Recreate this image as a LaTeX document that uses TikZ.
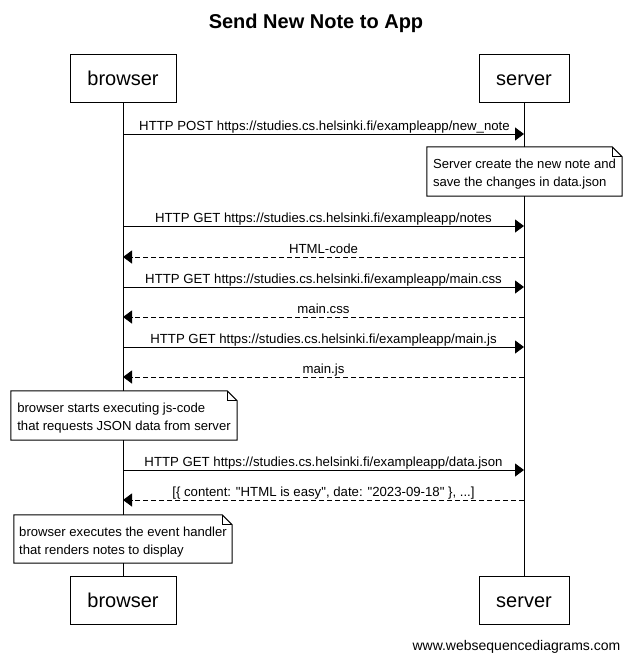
\documentclass[tikz,border=0pt]{standalone}
\usepackage{fontspec}
\setmainfont{Liberation Sans}[Ligatures=TeXOff]
\usetikzlibrary{arrows.meta}
\begin{document}
\begin{tikzpicture}[x=1pt,y=-1pt,
  actor/.style={draw,line width=1pt,minimum height=48pt,inner sep=0pt,
    text height=14pt,text depth=0pt,font=\fontsize{20}{24}\selectfont},
  lifeline/.style={line width=1pt},
  req/.style={line width=1pt,-{Triangle[length=9pt,width=13pt]}},
  resp/.style={line width=1pt,dash pattern=on 5pt off 3pt,-{Triangle[length=9pt,width=13pt]}},
  lbl/.style={anchor=base,inner sep=0pt,font=\fontsize{13.2}{16}\selectfont},
  notebg/.style={fill=white,inner sep=0pt},
  notetxt/.style={anchor=base,inner sep=0pt,font=\fontsize{13.1}{18}\selectfont},
  noteline/.style={line width=1pt,line join=miter}]
\useasboundingbox (0,0) rectangle (631,659);

% title
\node[anchor=base,inner sep=0pt,font=\fontsize{20}{24}\bfseries] (title) at (316,28.5) {Send New Note to App};

% actors
\node[actor,minimum width=106pt] (bt) at (123,78) {browser};
\node[actor,minimum width=90pt] (st) at (524,78) {server};
\node[actor,minimum width=106pt] (bb) at (123,600) {browser};
\node[actor,minimum width=90pt] (sb) at (524,600) {server};

% lifelines
\draw[lifeline] (bt.south) -- (bb.north);
\draw[lifeline] (st.south) -- (sb.north);

% message end points
\foreach \n/\y in {1/134,2/226,3/257,4/287,5/317,6/347,7/377,8/470,9/500}{
  \coordinate (b\n) at (123,\y);
  \coordinate (s\n) at (524,\y);
}

% messages
\draw[req] (b1) -- (s1);
\node[lbl] (m1) at (324.5,130) {HTTP POST https://studies.cs.helsinki.fi/exampleapp/new\_note};
\draw[req] (b2) -- (s2);
\node[lbl] (m2) at (323.5,222) {HTTP GET https://studies.cs.helsinki.fi/exampleapp/notes};
\draw[resp] (s3) -- (b3);
\node[lbl] (m3) at (323.5,253) {HTML-code};
\draw[req] (b4) -- (s4);
\node[lbl] (m4) at (323.5,283) {HTTP GET https://studies.cs.helsinki.fi/exampleapp/main.css};
\draw[resp] (s5) -- (b5);
\node[lbl] (m5) at (323.5,313) {main.css};
\draw[req] (b6) -- (s6);
\node[lbl] (m6) at (323.5,343) {HTTP GET https://studies.cs.helsinki.fi/exampleapp/main.js};
\draw[resp] (s7) -- (b7);
\node[lbl] (m7) at (323.5,373) {main.js};
\draw[req] (b8) -- (s8);
\node[lbl] (m8) at (323.5,466) {HTTP GET https://studies.cs.helsinki.fi/exampleapp/data.json};
\draw[resp] (s9) -- (b9);
\node[lbl] (m9) at (323.5,496) {[\{ content: "HTML is easy", date: "2023-09-18" \}, ...]};

% notes
\node[notebg,minimum width=195pt,minimum height=49pt] (n1) at (524.5,171.5) {};
\node[notebg,minimum width=226pt,minimum height=49pt] (n2) at (124,415.5) {};
\node[notebg,minimum width=218pt,minimum height=48pt] (n3) at (123,539) {};
\foreach \n in {n1,n2,n3}{
  \draw[noteline] (\n.north west) -- ([xshift=-10pt]\n.north east) -- ([yshift=-10pt]\n.north east)
    -- (\n.south east) -- (\n.south west) -- cycle;
  \draw[noteline] ([xshift=-10pt]\n.north east) -- ([xshift=-10pt,yshift=-10pt]\n.north east)
    -- ([yshift=-10pt]\n.north east);
}
\node[notetxt] (t1) at (524.5,168) {\begin{tabular}[t]{@{}l@{}}Server create the new note and\\save the changes in data.json\end{tabular}};
\node[notetxt] (t2) at (124,412) {\begin{tabular}[t]{@{}l@{}}browser starts executing js-code\\that requests JSON data from server\end{tabular}};
\node[notetxt] (t3) at (123,536) {\begin{tabular}[t]{@{}l@{}}browser executes the event handler\\that renders notes to display\end{tabular}};

% footer
\node[anchor=base east,inner sep=0pt,font=\fontsize{14}{17}\selectfont] (foot) at (620.5,650) {www.websequencediagrams.com};
\end{tikzpicture}
\end{document}
